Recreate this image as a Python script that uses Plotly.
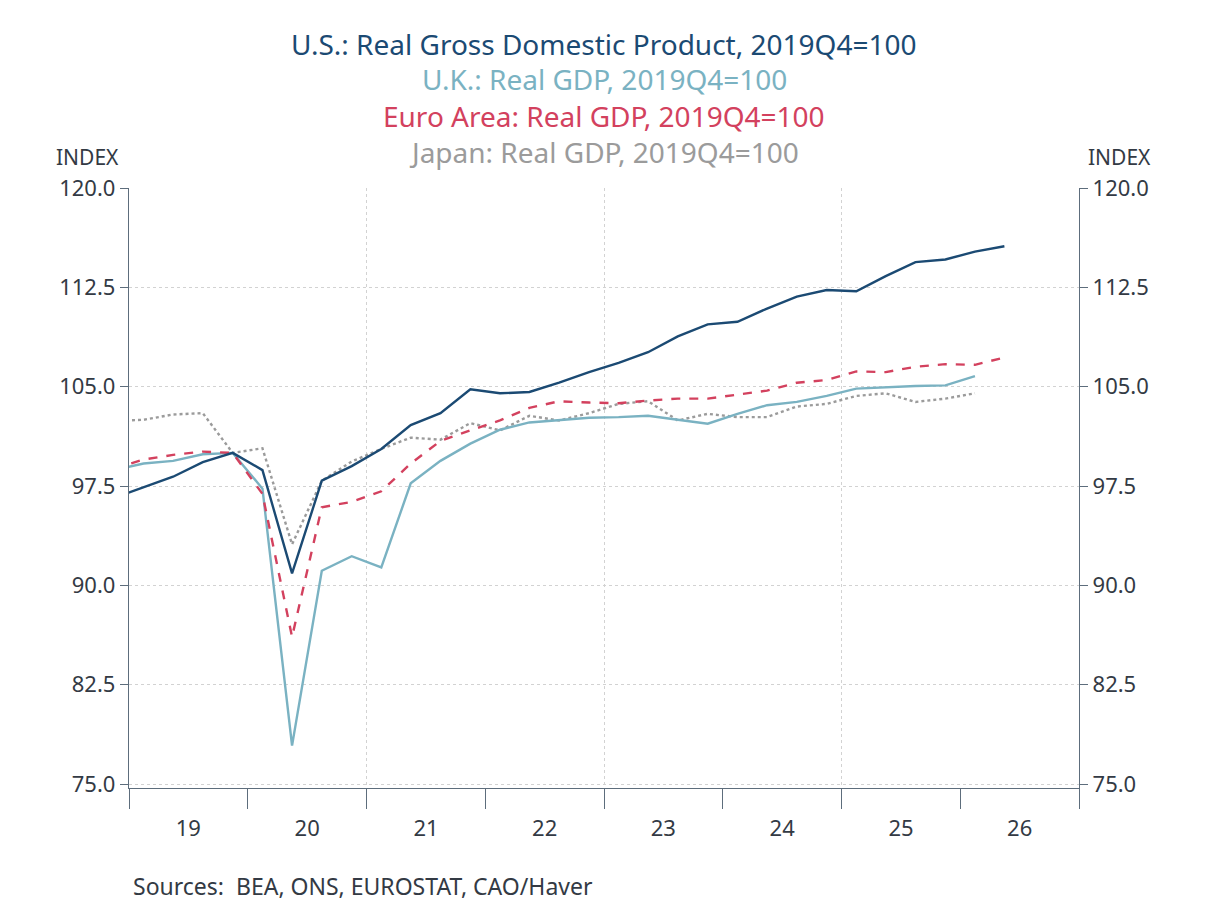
import pandas as pd
import plotly.graph_objects as go

QUARTERS_LONG = ["2018Q4",
    "2019Q1", "2019Q2", "2019Q3", "2019Q4",
    "2020Q1", "2020Q2", "2020Q3", "2020Q4",
    "2021Q1", "2021Q2", "2021Q3", "2021Q4",
    "2022Q1", "2022Q2", "2022Q3", "2022Q4",
    "2023Q1", "2023Q2", "2023Q3", "2023Q4",
    "2024Q1", "2024Q2", "2024Q3", "2024Q4",
    "2025Q1", "2025Q2", "2025Q3", "2025Q4",
    "2026Q1", "2026Q2"]
QUARTERS_SHORT = QUARTERS_LONG[:-1]

US = [96.6,
      97.4, 98.2, 99.3, 100.0,
      98.7, 90.9, 97.9, 99.0,
      100.3, 102.1, 103.0, 104.8,
      104.5, 104.6, 105.3, 106.1,
      106.8, 107.6, 108.8, 109.7,
      109.9, 110.9, 111.8, 112.3,
      112.2, 113.35, 114.4, 114.6,
      115.2, 115.6]
EURO = [98.8,
        99.5, 99.85, 100.1, 100.0,
        96.9, 86.1, 95.9, 96.3,
        97.1, 99.2, 100.9, 101.7,
        102.45, 103.4, 103.9, 103.8,
        103.75, 103.95, 104.1, 104.1,
        104.4, 104.7, 105.3, 105.5,
        106.15, 106.1, 106.5, 106.7,
        106.65, 107.2]
UK = [98.7,
      99.2, 99.4, 99.9, 100.0,
      97.3, 77.9, 91.1, 92.2,
      91.35, 97.7, 99.4, 100.7,
      101.75, 102.3, 102.45, 102.65,
      102.7, 102.8, 102.5, 102.2,
      102.95, 103.6, 103.85, 104.3,
      104.85, 104.97, 105.05, 105.1,
      105.8]
JAPAN = [102.4,
         102.5, 102.9, 103.0, 100.0,
         100.35, 93.1, 97.9, 99.35,
         100.3, 101.15, 101.0, 102.25,
         101.7, 102.8, 102.45, 103.0,
         103.7, 103.9, 102.45, 102.95,
         102.7, 102.7, 103.5, 103.7,
         104.3, 104.5, 103.85, 104.1,
         104.5]

TITLES = ["U.S.: Real Gross Domestic Product, 2019Q4=100",
          "U.K.: Real GDP, 2019Q4=100",
          "Euro Area: Real GDP, 2019Q4=100",
          "Japan: Real GDP, 2019Q4=100"]
SOURCE = "Sources:  BEA, ONS, EUROSTAT, CAO/Haver"
X_RANGE = ["2019-01-01", "2027-01-01"]
Y_RANGE = [74.7, 120.0]


def mid_quarter(q):
    p = pd.Period(q, freq="Q")
    return p.start_time + (p.end_time - p.start_time) / 2


x_long = [mid_quarter(q) for q in QUARTERS_LONG]
x_short = [mid_quarter(q) for q in QUARTERS_SHORT]

C_US = "#1b4a73"
C_UK = "#7ab2c2"
C_EU = "#d3415e"
C_JP = "#9b9b9b"
FONT = "Noto Sans"
TXT = "#333a44"
AXC = "#5d6d7c"
GRID = "#d2d2d2"
LW = 2.4

fig = go.Figure()
fig.add_trace(go.Scatter(x=x_short, y=JAPAN, mode="lines", name="Japan",
                         line=dict(color=C_JP, width=LW, dash="dot")))
fig.add_trace(go.Scatter(x=x_short, y=UK, mode="lines", name="U.K.",
                         line=dict(color=C_UK, width=LW)))
fig.add_trace(go.Scatter(x=x_long, y=EURO, mode="lines", name="Euro Area",
                         line=dict(color=C_EU, width=LW, dash="dash")))
fig.add_trace(go.Scatter(x=x_long, y=US, mode="lines", name="U.S.",
                         line=dict(color=C_US, width=LW)))
# invisible trace to activate the mirrored axes
fig.add_trace(go.Scatter(x=x_long, y=US, mode="markers", xaxis="x2", yaxis="y2",
                         marker=dict(opacity=0), hoverinfo="skip", showlegend=False))

# page has an 8px body margin, so the figure is 8px smaller and offset
OFF = 8
W, H = 1208 - OFF, 906 - OFF
PLOT_L, PLOT_R, PLOT_T, PLOT_B = 129, 1079, 188, 788  # screen pixels
L, T = PLOT_L - OFF, PLOT_T - OFF
R, B = (W + OFF) - PLOT_R, (H + OFF) - PLOT_B
ph = PLOT_B - PLOT_T
pw = PLOT_R - PLOT_L


def py(pix):
    return (PLOT_B - pix) / ph


def px(pix):
    return (pix - PLOT_L) / pw


annotations = []
for txt, col, yp in zip(TITLES, [C_US, C_UK, C_EU, C_JP], [44, 79, 116, 152]):
    annotations.append(dict(text=txt, x=0.5, y=py(yp), xref="paper", yref="paper",
                            showarrow=False, xanchor="center", yanchor="middle",
                            font=dict(family=FONT, size=28, color=col)))
annotations.append(dict(text="INDEX", x=px(87), y=py(157), xref="paper", yref="paper",
                        showarrow=False, xanchor="center", yanchor="middle",
                        font=dict(family=FONT, size=21, color=TXT)))
annotations.append(dict(text="INDEX", x=px(1119), y=py(157), xref="paper", yref="paper",
                        showarrow=False, xanchor="center", yanchor="middle",
                        font=dict(family=FONT, size=21, color=TXT)))
annotations.append(dict(text=SOURCE, x=px(131), y=py(886), xref="paper", yref="paper",
                        showarrow=False, xanchor="left", yanchor="middle",
                        font=dict(family=FONT, size=23, color=TXT)))

fig.update_layout(
    width=W, height=H,
    margin=dict(l=L, r=R, t=T, b=B),
    paper_bgcolor="white", plot_bgcolor="white",
    showlegend=False,
    annotations=annotations,
    font=dict(family=FONT, color=TXT),
    xaxis=dict(type="date", range=X_RANGE, dtick="M12", tick0="2019-01-01",
               tickformat="%y", ticklabelmode="period",
               ticks="outside", ticklen=20, tickcolor=AXC, tickwidth=1.3,
               showline=True, linecolor=AXC, linewidth=1.3,
               showgrid=False, zeroline=False,
               tickfont=dict(family=FONT, size=22, color=TXT)),
    xaxis2=dict(type="date", range=X_RANGE, overlaying="x", dtick="M24",
                tick0="2019-01-01", showticklabels=False, ticks="",
                showgrid=True, gridcolor=GRID, griddash="3px,3px", gridwidth=1,
                showline=False, zeroline=False),
    yaxis=dict(range=Y_RANGE, tick0=75, dtick=7.5, tickformat=".1f",
               ticks="outside", ticklen=8, tickcolor=AXC, tickwidth=1.3,
               showline=True, linecolor=AXC, linewidth=1.3,
               showgrid=True, gridcolor=GRID, griddash="3px,3px", gridwidth=1,
               zeroline=False,
               tickfont=dict(family=FONT, size=22, color=TXT)),
    yaxis2=dict(range=Y_RANGE, tick0=75, dtick=7.5, tickformat=".1f",
                overlaying="y", side="right",
                ticks="outside", ticklen=8, tickcolor=AXC, tickwidth=1.3,
                showline=True, linecolor=AXC, linewidth=1.3,
                showgrid=False, zeroline=False,
                tickfont=dict(family=FONT, size=22, color=TXT)),
)

fig.write_html("out.html")
